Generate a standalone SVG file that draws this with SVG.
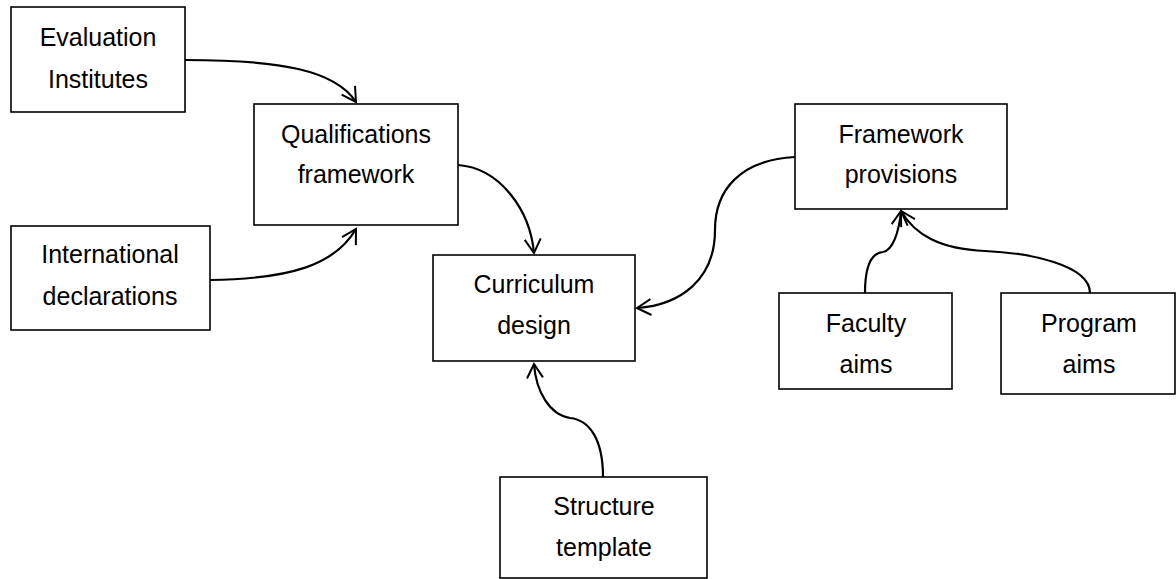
<svg xmlns="http://www.w3.org/2000/svg" width="1176" height="579" viewBox="0 0 1176 579">
<defs>
<marker id="arr" markerUnits="userSpaceOnUse" markerWidth="24" markerHeight="24" refX="15" refY="9" orient="auto" overflow="visible">
<path d="M1,1 L15,9 L1,17" fill="none" stroke="#000" stroke-width="2" stroke-linejoin="miter"/>
</marker>
</defs>
<style>
.box{fill:#fff;stroke:#000;stroke-width:1.6}
.t{font-family:"Liberation Sans",Arial,sans-serif;font-size:25px;fill:#000;text-anchor:middle}
.c{fill:none;stroke:#000;stroke-width:2.2;marker-end:url(#arr)}
</style>
<rect width="1176" height="579" fill="#fff"/>
<g id="connectors">
<path class="c" d="M185,60 C280,60 335,70 356,102"/>
<path class="c" d="M210,280 C290,279 335,265 356,229"/>
<path class="c" d="M458,165 C500,168 530,210 534,253"/>
<path class="c" d="M795,157 C740,160 715,190 715,230 C715,280 680,305 637,308"/>
<path class="c" d="M603,477 C603,440 590,420 570,418 C550,415 536,392 534,364"/>
<path class="c" d="M865,293 C865,270 870,253 883,252 C893,250 899,232 901,211"/>
<path class="c" d="M1090,293 C1090,265 1030,253 985,251 C940,249 915,235 901,211"/>
</g>
<g id="evaluation">
<rect class="box" x="11" y="7" width="174" height="105"/>
<text class="t" x="98" y="46">Evaluation</text>
<text class="t" x="98" y="88">Institutes</text>
</g>
<g id="qualifications">
<rect class="box" x="254" y="104" width="204" height="121"/>
<text class="t" x="356" y="143">Qualifications</text>
<text class="t" x="356" y="183">framework</text>
</g>
<g id="international">
<rect class="box" x="11" y="226" width="199" height="104"/>
<text class="t" x="110" y="263">International</text>
<text class="t" x="110" y="305">declarations</text>
</g>
<g id="curriculum">
<rect class="box" x="433" y="255" width="202" height="106"/>
<text class="t" x="534" y="293">Curriculum</text>
<text class="t" x="534" y="334">design</text>
</g>
<g id="framework">
<rect class="box" x="795" y="104" width="212" height="105"/>
<text class="t" x="901" y="143">Framework</text>
<text class="t" x="901" y="183">provisions</text>
</g>
<g id="faculty">
<rect class="box" x="779" y="293" width="173" height="96"/>
<text class="t" x="866" y="332">Faculty</text>
<text class="t" x="866" y="373">aims</text>
</g>
<g id="program">
<rect class="box" x="1001" y="293" width="174" height="101"/>
<text class="t" x="1089" y="332">Program</text>
<text class="t" x="1089" y="373">aims</text>
</g>
<g id="structure">
<rect class="box" x="500" y="477" width="207" height="101"/>
<text class="t" x="604" y="515">Structure</text>
<text class="t" x="604" y="556">template</text>
</g>
</svg>
